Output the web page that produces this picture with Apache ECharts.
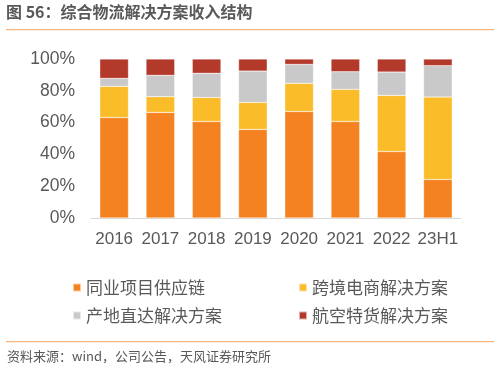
<!DOCTYPE html>
<html><head><meta charset="utf-8">
<script src="https://cdn.jsdelivr.net/npm/echarts@6/dist/echarts.min.js"></script>
<style>html,body{margin:0;padding:0;background:#fff}#c{width:499px;height:371px}</style>
</head><body><div id="c"></div>
<script>
var categories = ['2016','2017','2018','2019','2020','2021','2022','23H1'];
var seriesNames = ['同业项目供应链','跨境电商解决方案','产地直达解决方案','航空特货解决方案'];
var peerSupply = [63.2, 66.4, 60.7, 55.7, 67.0, 60.7, 41.8, 24.2];
var crossBorder = [19.6, 9.9, 15.1, 17.0, 17.7, 20.2, 35.3, 51.9];
var originDirect = [5.0, 13.4, 15.2, 19.7, 11.9, 11.1, 14.7, 19.7];
var airSpecial = [12.2, 10.3, 9.0, 7.6, 3.4, 8.0, 8.2, 4.2];
var yTicks = [0, 20, 40, 60, 80, 100];
var colors = ['#F58220', '#FBBC2A', '#C9C9C9', '#B33A2B'];
var values = [peerSupply, crossBorder, originDirect, airSpecial];

var font = '"Liberation Sans", Arial, Helvetica, sans-serif';
var cjk = '"Noto Sans CJK SC", "Liberation Sans", sans-serif';
var chart = echarts.init(document.getElementById('c'), null, {renderer: 'canvas'});
var legendPos = [[67, 274], [293, 274], [67, 302], [293, 302]];
var option = {
  animation: false,
  backgroundColor: '#fff',
  grid: {left: 91, right: 38, top: 59, bottom: 153},
  legend: seriesNames.map(function (n, i) {
    return {
      data: [n], left: legendPos[i][0], top: legendPos[i][1],
      icon: 'rect', itemWidth: 8, itemHeight: 8, itemGap: 5,
      textStyle: {color: '#595959', fontSize: 17, fontFamily: cjk}
    };
  }),
  xAxis: {
    type: 'category', data: categories,
    axisLine: {lineStyle: {color: '#D9D9D9', width: 1}},
    axisTick: {show: false},
    axisLabel: {color: '#595959', fontSize: 17, fontFamily: font, margin: 13, interval: 0}
  },
  yAxis: {
    type: 'value', min: 0, max: 100, interval: 20,
    axisLine: {show: false}, axisTick: {show: false}, splitLine: {show: false},
    axisLabel: {color: '#595959', fontSize: 17.5, fontFamily: font, margin: 16,
      formatter: function (v) { return yTicks.indexOf(v) >= 0 ? v + '%' : ''; }}
  },
  series: seriesNames.map(function (n, i) {
    return {
      name: n, type: 'bar', stack: 'total', barWidth: '62%',
      data: values[i],
      itemStyle: {color: colors[i], borderColor: 'rgba(255,255,255,0.6)', borderWidth: 0.5}
    };
  }),
  graphic: [
    {type: 'text', left: 6, top: 4, style: {text: '图 56：综合物流解决方案收入结构', fill: '#595959', font: 'bold 16px ' + cjk}},
    {type: 'rect', shape: {x: 6, y: 29, width: 488, height: 1.2}, style: {fill: '#F9B57E'}},
    {type: 'rect', shape: {x: 6, y: 341, width: 488, height: 1.2}, style: {fill: '#F9B57E'}},
    {type: 'text', left: 7, top: 350, style: {text: '资料来源：wind，公司公告，天风证券研究所', fill: '#595959', font: '13px ' + cjk}}
  ]
};
chart.setOption(option);
</script></body></html>
